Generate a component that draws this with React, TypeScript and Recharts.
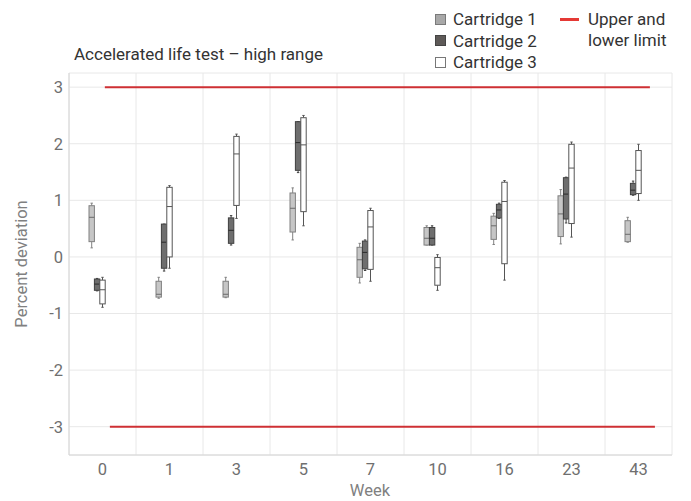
import React from 'react';
import { ComposedChart, Bar, XAxis, YAxis, CartesianGrid, ReferenceLine } from 'recharts';

const weeks = ['0', '1', '3', '5', '7', '10', '16', '23', '43'];

// Each entry: [min, q1, median, q3, max]
const cartridge1 = [
  [0.16, 0.27, 0.70, 0.905, 0.95],
  [-0.73, -0.71, -0.66, -0.43, -0.36],
  [-0.72, -0.71, -0.66, -0.43, -0.36],
  [0.30, 0.44, 0.86, 1.13, 1.22],
  [-0.46, -0.36, -0.05, 0.17, 0.24],
  [0.21, 0.21, 0.33, 0.52, 0.55],
  [0.22, 0.31, 0.55, 0.72, 0.77],
  [0.23, 0.36, 0.76, 1.08, 1.19],
  [0.26, 0.27, 0.40, 0.64, 0.70],
];
const cartridge2 = [
  [-0.60, -0.59, -0.48, -0.39, -0.38],
  [-0.25, -0.20, 0.26, 0.58, 0.58],
  [0.21, 0.24, 0.47, 0.69, 0.73],
  [1.49, 1.53, 2.02, 2.39, 2.39],
  [-0.24, -0.21, 0.08, 0.28, 0.30],
  [0.21, 0.21, 0.33, 0.52, 0.55],
  [0.68, 0.69, 0.83, 0.93, 0.95],
  [0.60, 0.67, 1.11, 1.40, 1.41],
  [1.09, 1.10, 1.18, 1.30, 1.34],
];
const cartridge3 = [
  [-0.89, -0.83, -0.58, -0.41, -0.36],
  [-0.20, 0.00, 0.89, 1.23, 1.26],
  [0.68, 0.91, 1.82, 2.13, 2.17],
  [0.55, 0.80, 1.98, 2.46, 2.50],
  [-0.43, -0.22, 0.53, 0.82, 0.86],
  [-0.59, -0.50, -0.19, -0.01, 0.04],
  [-0.41, -0.12, 0.98, 1.32, 1.35],
  [0.35, 0.59, 1.57, 1.99, 2.03],
  [1.00, 1.12, 1.53, 1.88, 1.99],
];

const yTicks = [-3, -2, -1, 0, 1, 2, 3];
// limit lines, x in category-band units (0 = left edge of "0", 9 = right edge of "43")
const upperLimit = [{ x: 0.535, y: 3 }, { x: 8.67, y: 3 }];
const lowerLimit = [{ x: 0.61, y: -3 }, { x: 8.745, y: -3 }];

const rows = weeks.map((w, i) => ({ week: w, idx: i, c1: cartridge1[i], c2: cartridge2[i], c3: cartridge3[i] }));

const FONT = 'Roboto, sans-serif';
const RED = '#cf3034';

function makeBox(key: string, fill: string, stroke: string, medianStroke: string) {
  return (props: any) => {
    const { x, y, width, height, payload } = props;
    const s = payload && payload[key];
    if (!s || x == null || y == null) return <g />;
    const top = Math.min(y, y + height);
    const bot = Math.max(y, y + height);
    const [mn, q1, md, q3, mx] = s;
    const span = mx - mn;
    const py = (v: number) => (span === 0 ? top : top + ((mx - v) / span) * (bot - top));
    const cx = x + width / 2;
    return (
      <g>
        <line x1={cx} x2={cx} y1={py(mx)} y2={py(q3)} stroke={stroke} strokeWidth={1} />
        <line x1={cx} x2={cx} y1={py(q1)} y2={py(mn)} stroke={stroke} strokeWidth={1} />
        <line x1={cx - 1.2} x2={cx + 1.2} y1={py(mx)} y2={py(mx)} stroke={stroke} strokeWidth={1} />
        <line x1={cx - 1.2} x2={cx + 1.2} y1={py(mn)} y2={py(mn)} stroke={stroke} strokeWidth={1} />
        <rect x={x} y={py(q3)} width={width} height={Math.max(0.5, py(q1) - py(q3))} fill={fill} stroke={stroke} strokeWidth={1} />
        <line x1={x} x2={x + width} y1={py(md)} y2={py(md)} stroke={medianStroke} strokeWidth={1} />
      </g>
    );
  };
}

const legendItems = [
  { label: 'Cartridge 1', fill: '#a8a8a8', stroke: '#7a7a7a' },
  { label: 'Cartridge 2', fill: '#5e5a58', stroke: '#444' },
  { label: 'Cartridge 3', fill: '#ffffff', stroke: '#777' },
];

function LegendBlock() {
  return (
    <div style={{ position: 'absolute', left: 0, top: 0, width: 691, height: 70, fontFamily: FONT, fontSize: 17, color: '#333' }}>
      {legendItems.map((it, i) => (
        <div key={it.label} style={{ position: 'absolute', left: 435, top: 9 + i * 21.5, display: 'flex', alignItems: 'center', lineHeight: '20px' }}>
          <span style={{ display: 'inline-block', width: 9, height: 9, background: it.fill, border: `1px solid ${it.stroke}`, marginRight: 7 }} />
          <span>{it.label}</span>
        </div>
      ))}
      <div style={{ position: 'absolute', left: 560, top: 18, width: 19, height: 3, background: '#e53935' }} />
      <div style={{ position: 'absolute', left: 588, top: 9, lineHeight: '21px' }}>
        Upper and<br />lower limit
      </div>
    </div>
  );
}

function gridGen(args: any) {
  const { xAxis, offset } = args || {};
  if (xAxis && xAxis.scale && typeof xAxis.scale === 'function') {
    try {
      const sc = xAxis.scale;
      const bw = typeof sc.bandwidth === 'function' ? sc.bandwidth() : 0;
      const pts = weeks.map((w) => sc(w));
      if (bw > 0 && pts.every((p: any) => typeof p === 'number' && !isNaN(p))) {
        return [...pts, pts[pts.length - 1] + bw];
      }
    } catch (e) {}
  }
  return weeks.concat(['end']).map((_, i) => offset.left + (i * offset.width) / weeks.length);
}

export default function App() {
  return (
    <div style={{ position: 'absolute', left: 0, top: 0, width: 691, height: 501, fontFamily: FONT, background: '#fff' }}>
      <ComposedChart
        width={691}
        height={501}
        data={rows}
        margin={{ top: 73, right: 19, bottom: 16, left: 0 }}
        barGap={0}
        barSize={5.4}
      >
        <CartesianGrid stroke="#e8e8e8" strokeWidth={1} verticalCoordinatesGenerator={gridGen} />
        <XAxis
          dataKey="week"
          height={30}
          axisLine={{ stroke: '#d6d6d6' }}
          tickLine={false}
          tick={{ fill: '#6f6f6f', fontSize: 16.5, fontFamily: FONT }}
        />
        <XAxis xAxisId="lim" dataKey="idx" type="number" domain={[0, 9]} allowDataOverflow hide />
        <YAxis
          domain={[-3.5, 3.25]}
          ticks={yTicks}
          allowDataOverflow
          width={69}
          axisLine={{ stroke: '#d6d6d6' }}
          tickLine={false}
          tickMargin={0}
          tick={{ fill: '#6f6f6f', fontSize: 16.5, fontFamily: FONT }}
        />
        <Bar dataKey={(d: any) => [d.c1[0], d.c1[4]]} isAnimationActive={false} shape={makeBox('c1', '#c6c6c6', '#808080', '#6a6a6a')} />
        <Bar dataKey={(d: any) => [d.c2[0], d.c2[4]]} isAnimationActive={false} shape={makeBox('c2', '#6e6e6e', '#404040', '#2a2a2a')} />
        <Bar dataKey={(d: any) => [d.c3[0], d.c3[4]]} isAnimationActive={false} shape={makeBox('c3', '#ffffff', '#555555', '#555555')} />
        <Bar dataKey="pad1" isAnimationActive={false} />
        <Bar dataKey="pad2" isAnimationActive={false} />
        <ReferenceLine xAxisId="lim" segment={upperLimit} stroke={RED} strokeWidth={2} ifOverflow="visible" />
        <ReferenceLine xAxisId="lim" segment={lowerLimit} stroke={RED} strokeWidth={2} ifOverflow="visible" />
      </ComposedChart>
      <LegendBlock />
      <div style={{ position: 'absolute', left: 74, top: 43, fontSize: 17, color: '#333', whiteSpace: 'nowrap', lineHeight: '22px' }}>
        Accelerated life test – high range
      </div>
      <div style={{ position: 'absolute', left: 370, top: 481, transform: 'translateX(-50%)', fontSize: 16.5, color: '#808080', lineHeight: '20px' }}>
        Week
      </div>
      <div style={{ position: 'absolute', left: 22, top: 264, transform: 'translate(-50%, -50%) rotate(-90deg)', fontSize: 16.5, color: '#808080', whiteSpace: 'nowrap', lineHeight: '20px' }}>
        Percent deviation
      </div>
    </div>
  );
}
